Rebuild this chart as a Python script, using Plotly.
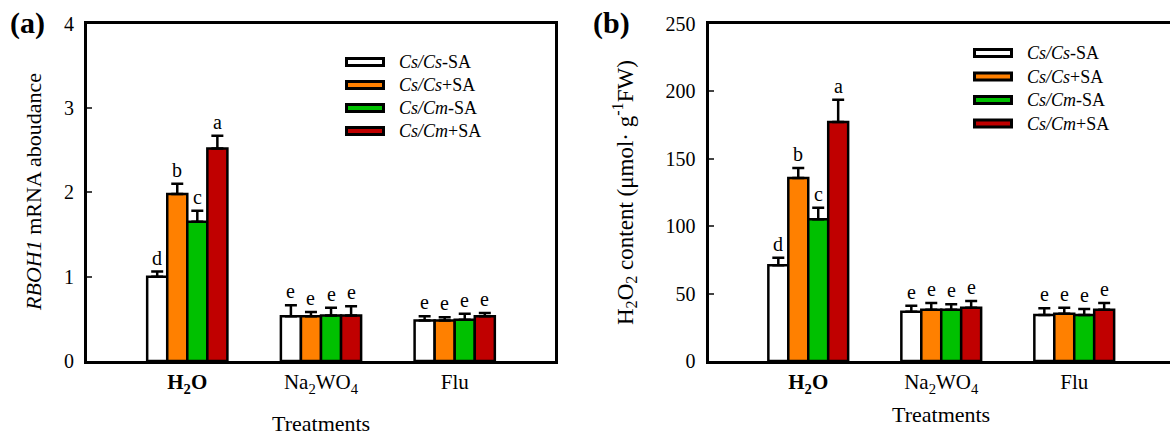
import plotly.graph_objects as go

W, H = 1170, 436

categories = ["H2O", "Na2WO4", "Flu"]
tick_labels = ["<b>H<sub>2</sub>O</b>", "Na<sub>2</sub>WO<sub>4</sub>", "Flu"]
series_names = ["<i>Cs/Cs</i>-SA", "<i>Cs/Cs</i>+SA", "<i>Cs/Cm</i>-SA", "<i>Cs/Cm</i>+SA"]
series_colors = ["#FFFFFF", "#FF8000", "#00C000", "#C00000"]

# Panel (a): RBOH1 mRNA abundance
rboh_cscs_minus = [1.00, 0.53, 0.48]
rboh_cscs_plus = [1.98, 0.53, 0.48]
rboh_cscm_minus = [1.65, 0.54, 0.49]
rboh_cscm_plus = [2.52, 0.54, 0.53]
rboh_err_cscs_minus = [0.06, 0.13, 0.05]
rboh_err_cscs_plus = [0.12, 0.05, 0.04]
rboh_err_cscm_minus = [0.13, 0.09, 0.07]
rboh_err_cscm_plus = [0.15, 0.11, 0.04]
rboh_letters_cscs_minus = ["d", "e", "e"]
rboh_letters_cscs_plus = ["b", "e", "e"]
rboh_letters_cscm_minus = ["c", "e", "e"]
rboh_letters_cscm_plus = ["a", "e", "e"]

# Panel (b): H2O2 content
h2o2_cscs_minus = [71, 36.5, 34]
h2o2_cscs_plus = [135.5, 38, 35]
h2o2_cscm_minus = [105, 38, 34]
h2o2_cscm_plus = [177, 39.5, 38]
h2o2_err_cscs_minus = [5.5, 4.5, 5]
h2o2_err_cscs_plus = [7.5, 5, 4.5]
h2o2_err_cscm_minus = [8.5, 4, 4.5]
h2o2_err_cscm_plus = [16.5, 5, 5]
h2o2_letters_cscs_minus = ["d", "e", "e"]
h2o2_letters_cscs_plus = ["b", "e", "e"]
h2o2_letters_cscm_minus = ["c", "e", "e"]
h2o2_letters_cscm_plus = ["a", "e", "e"]

rboh_ticks = [0, 1, 2, 3, 4]
h2o2_ticks = [0, 50, 100, 150, 200, 250]

FONT = "Liberation Serif, Times New Roman, serif"


def px(x):
    return x / W


def py(y):
    return 1 - y / H


fig = go.Figure()

panels = [
    dict(xa="x", ya="y",
         vals=[rboh_cscs_minus, rboh_cscs_plus, rboh_cscm_minus, rboh_cscm_plus],
         errs=[rboh_err_cscs_minus, rboh_err_cscs_plus, rboh_err_cscm_minus, rboh_err_cscm_plus],
         letters=[rboh_letters_cscs_minus, rboh_letters_cscs_plus, rboh_letters_cscm_minus, rboh_letters_cscm_plus]),
    dict(xa="x2", ya="y2",
         vals=[h2o2_cscs_minus, h2o2_cscs_plus, h2o2_cscm_minus, h2o2_cscm_plus],
         errs=[h2o2_err_cscs_minus, h2o2_err_cscs_plus, h2o2_err_cscm_minus, h2o2_err_cscm_plus],
         letters=[h2o2_letters_cscs_minus, h2o2_letters_cscs_plus, h2o2_letters_cscm_minus, h2o2_letters_cscm_plus]),
]

n_series = 4
group_width = 0.6
bar_w = group_width / n_series
annotations = []

for p in panels:
    for s in range(n_series):
        fig.add_trace(go.Bar(
            x=categories, y=p["vals"][s], name=series_names[s],
            xaxis=p["xa"], yaxis=p["ya"],
            marker=dict(color=series_colors[s], line=dict(color="black", width=2.5)),
            error_y=dict(type="data", array=p["errs"][s], arrayminus=[0] * len(categories),
                         symmetric=False, color="black", thickness=2.5, width=6),
            showlegend=False,
        ))
        offset = -group_width / 2 + bar_w * (s + 0.5)
        for i, cat in enumerate(categories):
            annotations.append(dict(
                x=i + offset, y=p["vals"][s][i] + p["errs"][s][i],
                xref=p["xa"], yref=p["ya"], text=p["letters"][s][i],
                showarrow=False, yanchor="bottom", xanchor="center", yshift=1,
                font=dict(family=FONT, size=20, color="black"),
            ))

axis_common = dict(showgrid=False, zeroline=False, showline=True, linecolor="black",
                   linewidth=3)

fig.update_layout(
    width=W, height=H,
    margin=dict(l=0, r=0, t=0, b=0, autoexpand=False),
    paper_bgcolor="white", plot_bgcolor="white",
    showlegend=False,
    barmode="group", bargap=0.4, bargroupgap=0,
    font=dict(family=FONT, color="black", size=20),
    xaxis=dict(domain=[px(87), px(555)], anchor="y", type="category",
               range=[-0.75, 2.75], tickmode="array", tickvals=categories, ticktext=tick_labels,
               ticks="", mirror=True, tickfont=dict(size=21), **axis_common),
    yaxis=dict(domain=[py(361), py(23.5)], anchor="x", range=[0, 4],
               tickmode="array", tickvals=rboh_ticks, ticks="inside", ticklen=5, tickwidth=2,
               mirror=True, tickfont=dict(size=20), ticklabelstandoff=6, **axis_common),
    xaxis2=dict(domain=[px(708.5), 1.0], anchor="y2", type="category",
                range=[-0.75, 2.72], tickmode="array", tickvals=categories, ticktext=tick_labels,
                ticks="", mirror=True, tickfont=dict(size=21), **axis_common),
    yaxis2=dict(domain=[py(361), py(23.5)], anchor="x2", range=[0, 250],
                tickmode="array", tickvals=h2o2_ticks, ticks="inside", ticklen=5, tickwidth=2,
                mirror=False, tickfont=dict(size=20), ticklabelstandoff=6, **axis_common),
)

# Axis titles and panel labels
annotations += [
    dict(x=px(33), y=py(192), xref="paper", yref="paper", text="<i>RBOH1</i> mRNA aboudance",
         textangle=-90, showarrow=False, xanchor="center", yanchor="middle",
         font=dict(family=FONT, size=22)),
    dict(x=px(625), y=py(193), xref="paper", yref="paper",
         text="H<sub>2</sub>O<sub>2</sub> content (μmol· g<sup>-1</sup>FW)",
         textangle=-90, showarrow=False, xanchor="center", yanchor="middle",
         font=dict(family=FONT, size=23)),
    dict(x=px(321), y=py(423), xref="paper", yref="paper", text="Treatments",
         showarrow=False, xanchor="center", yanchor="middle", font=dict(family=FONT, size=22)),
    dict(x=px(941), y=py(414), xref="paper", yref="paper", text="Treatments",
         showarrow=False, xanchor="center", yanchor="middle", font=dict(family=FONT, size=22)),
    dict(x=px(27), y=py(23), xref="paper", yref="paper", text="<b>(a)</b>",
         showarrow=False, xanchor="center", yanchor="middle", font=dict(family=FONT, size=30)),
    dict(x=px(611), y=py(23), xref="paper", yref="paper", text="<b>(b)</b>",
         showarrow=False, xanchor="center", yanchor="middle", font=dict(family=FONT, size=30)),
]

# Custom legends (wide swatches with thick borders)
shapes = []
legend_specs = [
    dict(box_x=(346.5, 383.5), text_x=397, rows=[62, 85, 108, 131]),
    dict(box_x=(974.5, 1011.5), text_x=1025, rows=[53, 76.5, 100, 123.5]),
]
for lg in legend_specs:
    for s in range(n_series):
        yc = lg["rows"][s]
        shapes.append(dict(type="rect", xref="paper", yref="paper",
                           x0=px(lg["box_x"][0]), x1=px(lg["box_x"][1]),
                           y0=py(yc + 3.5), y1=py(yc - 3.5),
                           fillcolor=series_colors[s], line=dict(color="black", width=3)))
        annotations.append(dict(x=px(lg["text_x"]), y=py(yc), xref="paper", yref="paper",
                                text=series_names[s], showarrow=False, xanchor="left",
                                yanchor="middle", font=dict(family=FONT, size=18)))

fig.update_layout(annotations=annotations, shapes=shapes)

fig.write_html("out.html")
